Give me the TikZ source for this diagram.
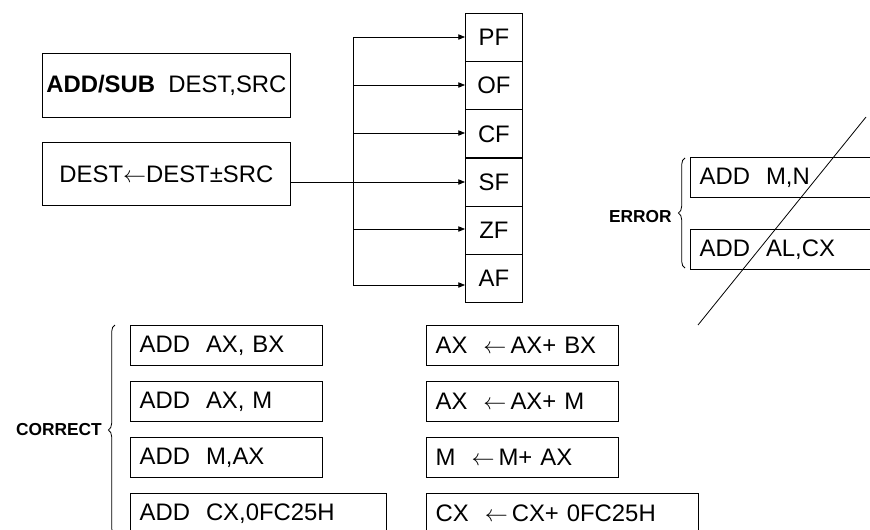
\documentclass[tikz,border=0pt]{standalone}
\usepackage{fontspec}
\setmainfont{Liberation Sans}
\usetikzlibrary{arrows.meta,decorations.pathreplacing}
\newcommand{\larr}{$\leftarrow$\hspace{3pt}}
\tikzset{
  txt/.style={font=\fontsize{17.9pt}{20pt}\selectfont},
  box/.style={draw, rectangle, line width=0.6pt, inner sep=0pt, txt, anchor=north west},
  lbox/.style={box, inner xsep=7pt, align=left},
  flag/.style={box, minimum width=42.75pt, minimum height=36.1pt},
  lab/.style={font=\fontsize{13pt}{15pt}\selectfont\bfseries, anchor=east, inner sep=0pt},
  conn/.style={line width=0.6pt},
  arr/.style={conn, -{Triangle[length=5pt,width=4pt]}},
  brc/.style={line width=0.6pt, decorate, decoration={brace, amplitude=5pt}}
}
\begin{document}
\begin{tikzpicture}[x=0.75pt,y=-0.75pt]
\useasboundingbox (0,0) rectangle (870,529);
% top-left boxes
\node[box, minimum width=186pt, minimum height=48pt] (b1) at (42,53) {\textbf{ADD/SUB}\ \ DEST,SRC};
\node[box, minimum width=186pt, minimum height=47.25pt] (b2) at (42,142) {DEST$\leftarrow$DEST±SRC};
% flags
\node[flag] (PF) at (465,13) {PF};
\node[flag] (OF) at (465,61.17) {OF};
\node[flag] (CF) at (465,109.33) {CF};
\node[flag] (SF) at (465,157.5) {SF};
\node[flag] (ZF) at (465,205.67) {ZF};
\node[flag] (AF) at (465,253.83) {AF};
% connectors
\coordinate (jtop) at (353,37);
\coordinate (jmid) at (353,182);
\coordinate (jbot) at (353,285);
\draw[conn] (jtop) -- (jbot);
\draw[arr] (b2.east |- jmid) -- (SF.west |- jmid);
\draw[arr] (jtop) -- (PF.west |- jtop);
\draw[arr] (353,85) -- (OF.west |- 353,85);
\draw[arr] (353,133) -- (CF.west |- 353,133);
\draw[arr] (353,229) -- (ZF.west |- 353,229);
\draw[arr] (jbot) -- (AF.west |- jbot);
% error group
\node[lbox, text width=136pt, minimum height=30pt] (e1) at (690,157) {ADD\ \ M,N};
\node[lbox, text width=136pt, minimum height=30pt] (e2) at (690,229) {ADD\ \ AL,CX};
\coordinate (x1) at (698,325);
\coordinate (x2) at (866,117);
\draw[conn] (x1) -- (x2);
\draw[brc] (685,268) -- (685,158);
\node[lab] (err) at (672,217) {ERROR};
% correct group
\node[lbox, text width=130pt, minimum height=30pt] (c1) at (130,325) {ADD\ \ AX,\ BX};
\node[lbox, text width=130pt, minimum height=30pt] (c2) at (130,381) {ADD\ \ AX,\ M};
\node[lbox, text width=130pt, minimum height=30pt] (c3) at (130,437) {ADD\ \ M,AX};
\node[lbox, text width=178pt, minimum height=30pt] (c4) at (130,493) {ADD\ \ CX,0FC25H};
\node[lbox, text width=130pt, minimum height=30pt] (r1) at (426,325) {AX\ \ \larr AX+ BX};
\node[lbox, text width=130pt, minimum height=30pt] (r2) at (426,381) {AX\ \ \larr AX+ M};
\node[lbox, text width=130pt, minimum height=30pt] (r3) at (426,437) {M\ \ \larr M+ AX};
\node[lbox, text width=190pt, minimum height=30pt] (r4) at (426,493) {CX\ \ \larr CX+ 0FC25H};
\draw[brc] (115,535) -- (115,325);
\node[lab] (cor) at (102,430) {CORRECT};
\end{tikzpicture}
\end{document}
